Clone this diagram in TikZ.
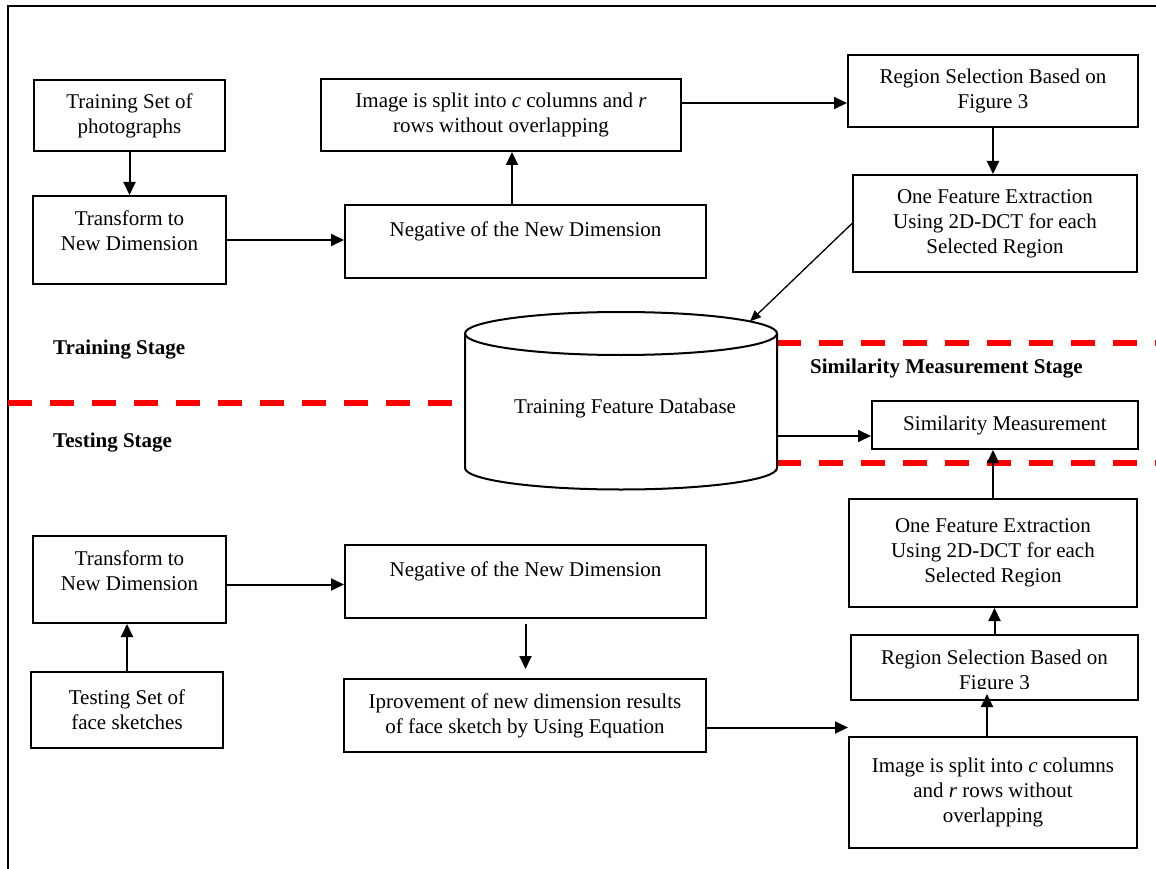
\documentclass[tikz,border=0pt]{standalone}
\usepackage{fontspec}
\setmainfont{Liberation Serif}
\usetikzlibrary{arrows.meta,positioning,calc}

\begin{document}
\begin{tikzpicture}[x=1pt,y=-1pt,
  font=\fontsize{21}{25}\selectfont,
  box/.style={draw, line width=2pt, align=center, inner sep=0pt},
  txt/.style={align=center, inner sep=0pt},
  stage/.style={inner sep=0pt, anchor=base west, font=\fontsize{21}{25}\selectfont\bfseries},
  arr/.style={line width=2pt, -{Triangle[length=13pt,width=12pt]}},
  redline/.style={red, line width=6.5pt, dash pattern=on 24pt off 18pt}]

\useasboundingbox (0,0) rectangle (1156,869);

\draw[line width=2pt] (8,869) -- (8,6) -- (1156,6);

\draw[redline] (8,403) -- (453,403);

\draw[redline] (777,343) -- (1160,343);

\draw[redline] (777,463) -- (1160,463);

% training stage
\node[box, minimum width=191, minimum height=71] (trainset) at (129.5,115.5) {Training Set of\\photographs};

\node[box, minimum width=193, minimum height=88] (traintrans) at (129.5,240) {};
\node[txt, below=16pt of traintrans.north] (traintranstxt) {Transform to\\New Dimension};

\node[box, minimum width=361, minimum height=73] (trainneg) at (525.5,241.5) {};
\node[txt, below=18pt of trainneg.north] (trainnegtxt) {Negative of the New Dimension};

\node[box, minimum width=360, minimum height=72] (trainsplit) at (501,115) {Image is split into \textit{c} columns and \textit{r}\\rows without overlapping};

\node[box, minimum width=290, minimum height=72] (trainregion) at (993,91) {Region Selection Based on\\Figure 3};

\node[box, minimum width=284, minimum height=97] (trainfeat) at (995,223.5) {One Feature Extraction\\Using 2D-DCT for each\\Selected Region};

% database
\draw[line width=2pt] (465,333.5) -- (465,468) arc[start angle=180, end angle=0, x radius=156, y radius=21.5] -- (777,333.5);
\draw[line width=2pt] (621,333.5) ellipse[x radius=156, y radius=21.5];
\node[txt, anchor=base] (dbtxt) at (625,413) {Training Feature Database};
\coordinate (dbtop) at (750,321.4);
\coordinate (dbright) at (777,436);

\node[box, minimum width=266, minimum height=48] (simbox) at (1005,425) {Similarity Measurement};

% testing stage
\node[box, minimum width=193, minimum height=87] (testtrans) at (129.5,579.5) {};
\node[txt, below=16pt of testtrans.north] (testtranstxt) {Transform to\\New Dimension};

\node[box, minimum width=192, minimum height=76] (testset) at (127,710) {Testing Set of\\face sketches};

\node[box, minimum width=361, minimum height=73] (testneg) at (525.5,581.5) {};
\node[txt, below=18pt of testneg.north] (testnegtxt) {Negative of the New Dimension};

\node[box, minimum width=362, minimum height=73] (testimp) at (525,715.5) {Iprovement of new dimension results\\of face sketch by Using Equation};

\node[box, minimum width=288, minimum height=111] (testsplit) at (993,792.5) {Image is split into \textit{c} columns\\and \textit{r} rows without\\overlapping};

\node[box, minimum width=287, minimum height=65] (testregion) at (994.5,667.5) {};
\node[txt, below=16pt of testregion.north] (testregiontxt) {Region Selection Based on\\Figure 3};
\fill[white] (853,689) rectangle (1136,696.5);

\node[box, minimum width=288, minimum height=108] (testfeat) at (993,553) {One Feature Extraction\\Using 2D-DCT for each\\Selected Region};

\node[stage] (trainstage) at (53,354) {Training Stage};
\node[stage] (teststage) at (53,447) {Testing Stage};
\node[stage] (simstage) at (810,373) {Similarity Measurement Stage};

% arrows
\draw[arr] (trainset) -- (traintrans);

\draw[arr] (traintrans.east) -- (traintrans.east -| trainneg.west);

\coordinate (n1) at ([xshift=-13.5pt]trainneg.north);
\draw[arr] (n1) -- (n1 |- trainsplit.south);

\draw[arr] ([yshift=12pt]trainsplit.east) coordinate (s1) -- (s1 -| trainregion.west);

\draw[arr] (trainregion.south) -- (trainregion.south |- trainfeat.north);

\draw[line width=1.3pt, -{Triangle[length=11pt,width=9pt]}] (trainfeat.west) -- (dbtop);

\draw[arr] (dbright) -- (dbright -| simbox.west);

\draw[arr] (testfeat.north) -- (testfeat.north |- simbox.south);

\draw[arr] (testregion.north) -- (testregion.north |- testfeat.south);

\coordinate (s2) at ([xshift=-6pt]testsplit.north);
\draw[arr] (s2) -- ($(s2 |- testregion.south)+(0,-7)$);

\draw[arr] ([yshift=-12pt]testimp.east) coordinate (s3) -- (s3 -| testsplit.west);

\draw[arr, shorten <=5pt, shorten >=9pt] (testneg.south) -- (testneg.south |- testimp.north);

\draw[arr] (testset.north) -- (testset.north |- testtrans.south);

\draw[arr] ([yshift=-5pt]testtrans.east) coordinate (s4) -- (s4 -| testneg.west);

\end{tikzpicture}
\end{document}
